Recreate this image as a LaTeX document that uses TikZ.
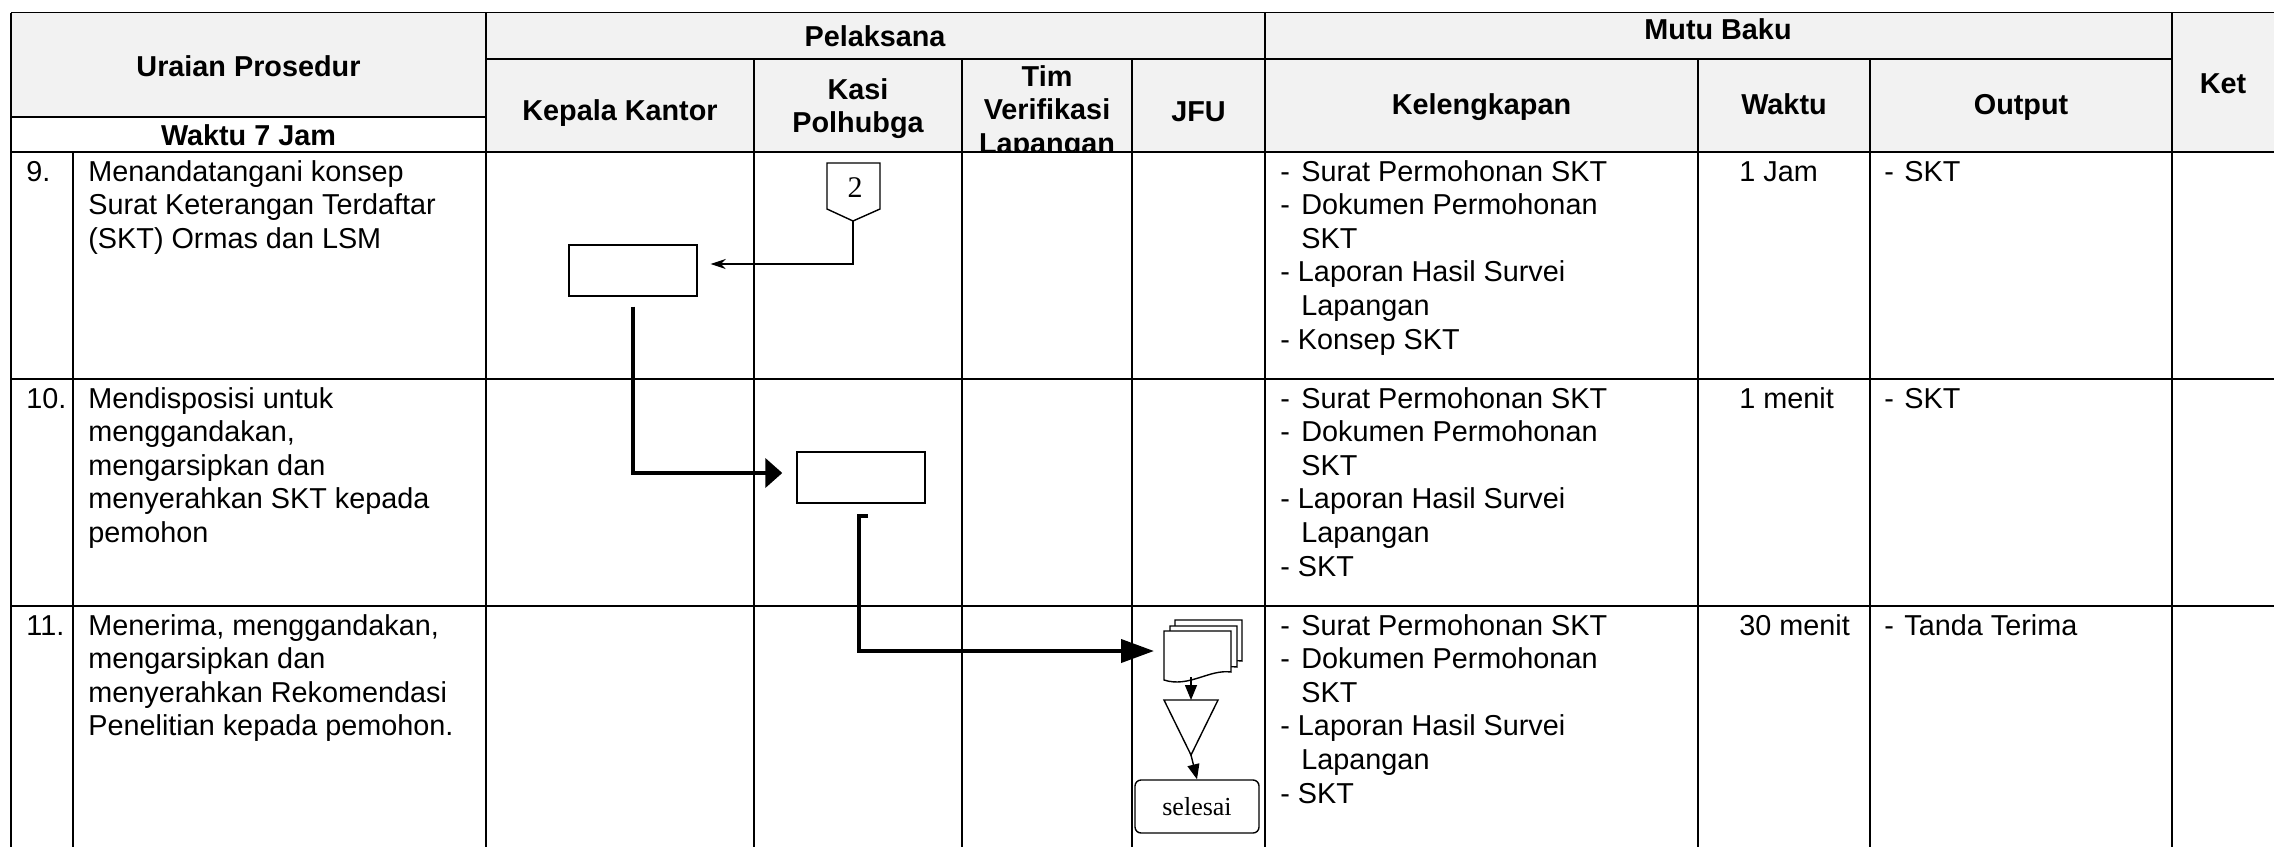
\documentclass[tikz,border=0pt]{standalone}
\usepackage{fontspec}
\setmainfont{Liberation Sans}
\newfontfamily\flowfont{Liberation Serif}
\usepackage{xcolor}
\usetikzlibrary{arrows.meta, positioning, calc}
\definecolor{headgray}{HTML}{F2F2F2}

% one sheet of the stacked document symbol
\newcommand{\docpage}[2]{\filldraw[fill=white, line width=0.7pt, shift={(#1,#2)}] (0,0) -- (67,0) -- (67,41) .. controls (45,38) and (25,57) .. (0,49) -- cycle;}
% multi-line cell text, baseline on the first line
\newcommand{\llines}[1]{\begin{tabular}[t]{@{}l@{}}#1\end{tabular}}
\newcommand{\clines}[1]{\begin{tabular}[t]{@{}c@{}}#1\end{tabular}}
\newcommand{\dash}{\makebox[10.5pt][l]{-}}
\newcommand{\hang}{\hspace*{10.5pt}}

\begin{document}
\begin{tikzpicture}[x=0.5pt, y=-0.5pt,
    grid/.style={draw, line width=0.6pt},
    head/.style={font=\fontsize{14.4}{16.8}\selectfont\bfseries, inner sep=0pt, anchor=base},
    cell/.style={font=\fontsize{14.4}{16.8}\selectfont, inner sep=0pt, anchor=base west},
    procbox/.style={draw, line width=0.7pt, minimum width=64pt, minimum height=25.5pt, inner sep=0pt},
    endbox/.style={draw, line width=0.7pt, rounded corners=3pt, minimum width=62pt, minimum height=26.5pt, inner sep=0pt, font=\flowfont\fontsize{13}{15}\selectfont},
    shapeline/.style={line width=0.7pt},
    thinline/.style={draw, line width=0.6pt, -{Stealth[length=7.5pt, width=5pt]}},
    smallline/.style={draw, line width=0.7pt, -{Triangle[length=7.5pt, width=6pt]}},
    thickA/.style={draw, line width=2pt, -{Triangle[length=8.5pt, width=14.5pt]}},
    thickB/.style={draw, line width=2pt, -{Triangle[length=16.5pt, width=11.5pt]}}
]
\useasboundingbox (0,0) rectangle (2274,847);

% header shading
\fill[headgray] (11,12.5) rectangle (2274,152);
\fill[white] (11,117) rectangle (486,152);

% table rules
\draw[grid, line width=0.8pt] (11,12.5) -- (2274,12.5);
\draw[grid] (486,59) -- (2172,59);
\draw[grid] (11,117) -- (486,117);
\foreach \y in {152,379,606} \draw[grid] (11,\y) -- (2274,\y);
\foreach \x in {11,486,1265,2172} \draw[grid] (\x,12.5) -- (\x,847);
\foreach \x in {754,962,1132,1698,1870} \draw[grid] (\x,59) -- (\x,847);
\draw[grid] (73,152) -- (73,847);

% header
\node[head] (hUraian) at (248.5,76) {Uraian Prosedur};
\node[head] (hWaktuJam) at (248.5,145) {Waktu 7 Jam};
\node[head] (hPelaksana) at (875,46) {Pelaksana};
\node[head] (hKepala) at (620,120) {Kepala Kantor};
\node[head] (hKasi) at (858,99) {\clines{Kasi\\Polhubga}};
\begin{scope}
    \clip (962,59) rectangle (1132,152);
    \node[head] (hTim) at (1047,86) {\clines{Tim\\Verifikasi\\Lapangan}};
\end{scope}
\node[head] (hJFU) at (1198.5,121) {JFU};
\node[head] (hMutu) at (1718,39) {Mutu Baku};
\node[head] (hKelengkapan) at (1481.5,114) {Kelengkapan};
\node[head] (hWaktu) at (1784,114) {Waktu};
\node[head] (hOutput) at (2021,114) {Output};
\node[head] (hKet) at (2223,93) {Ket};

% row 9
\node[cell] (n9) at (26,181) {9.};
\node[cell] (p9) at (88,181) {\llines{Menandatangani konsep\\Surat Keterangan Terdaftar\\(SKT) Ormas dan LSM}};
\node[cell] (k9) at (1280,181) {\llines{\dash Surat Permohonan SKT\\\dash Dokumen Permohonan\\\hang SKT\\- Laporan Hasil Survei\\\hang Lapangan\\- Konsep SKT}};
\node[cell] (w9) at (1739,181) {1 Jam};
\node[cell] (o9) at (1884,181) {\makebox[10pt][l]{-}SKT};

% row 10
\node[cell] (n10) at (26,408) {10.};
\node[cell] (p10) at (88,408) {\llines{Mendisposisi untuk\\menggandakan,\\mengarsipkan dan\\menyerahkan SKT kepada\\pemohon}};
\node[cell] (k10) at (1280,408) {\llines{\dash Surat Permohonan SKT\\\dash Dokumen Permohonan\\\hang SKT\\- Laporan Hasil Survei\\\hang Lapangan\\- SKT}};
\node[cell] (w10) at (1739,408) {1 menit};
\node[cell] (o10) at (1884,408) {\makebox[10pt][l]{-}SKT};

% row 11
\node[cell] (n11) at (26,635) {11.};
\node[cell] (p11) at (88,635) {\llines{Menerima, menggandakan,\\mengarsipkan dan\\menyerahkan Rekomendasi\\Penelitian kepada pemohon.}};
\node[cell] (k11) at (1280,635) {\llines{\dash Surat Permohonan SKT\\\dash Dokumen Permohonan\\\hang SKT\\- Laporan Hasil Survei\\\hang Lapangan\\- SKT}};
\node[cell] (w11) at (1739,635) {30 menit};
\node[cell] (o11) at (1884,635) {\makebox[10pt][l]{-}Tanda Terima};

% flow symbols
\draw[shapeline] (827,163) -- (880,163) -- (880,209) -- (853,221) -- (827,209) -- cycle;
\node[font=\flowfont\fontsize{15}{17}\selectfont, inner sep=0pt] (lbl2) at (855,188) {2};
\coordinate (con2) at (853,221);
\node[procbox] (boxA) at (633,270.5) {};
\node[procbox] (boxB) at (861,477.5) {};
\docpage{1175}{620}
\docpage{1170}{626}
\docpage{1164}{631}
\coordinate (docin) at (1154,651);
\coordinate (docbot) at (1191,677);
\draw[shapeline] (1164,700) -- (1218,700) -- (1191,755) -- cycle;
\coordinate (tritop) at (1191,700);
\coordinate (tritip) at (1191,755);
\node[endbox] (selesai) at (1197,806.5) {selesai};

% connectors
\draw[thinline] (con2) |- ([xshift=6.5pt, yshift=3.25pt]boxA.east);
\draw[thickA] ([yshift=-5pt]boxA.south) |- ([xshift=-7pt, yshift=2.25pt]boxB.west);
\draw[thickB] ([xshift=3.5pt, yshift=-6pt]boxB.south) -- ++(-9,0) |- (docin);
\draw[smallline] (docbot) -- (tritop);
\draw[smallline] (tritip) -- (selesai.north);
\end{tikzpicture}
\end{document}
